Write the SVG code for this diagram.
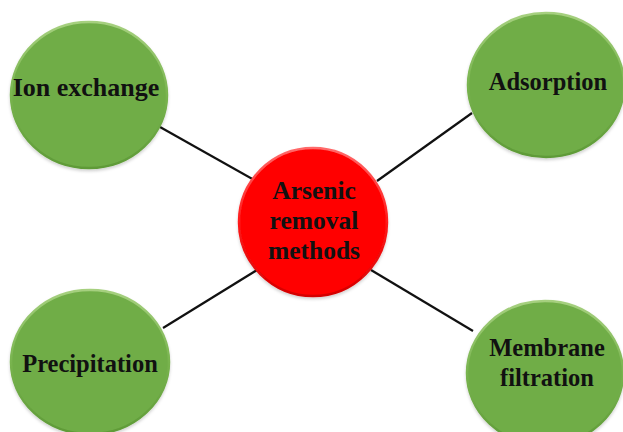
<svg xmlns="http://www.w3.org/2000/svg" width="623" height="432" viewBox="0 0 623 432">
  <defs>
    <linearGradient id="rimGreen" x1="0" y1="0" x2="0" y2="1">
      <stop offset="0" stop-color="#a6d07f"/>
      <stop offset="0.5" stop-color="#79b44f"/>
      <stop offset="1" stop-color="#5e9a37"/>
    </linearGradient>
    <linearGradient id="rimRed" x1="0" y1="0" x2="0" y2="1">
      <stop offset="0" stop-color="#ff6a6a"/>
      <stop offset="0.5" stop-color="#ff1a1a"/>
      <stop offset="1" stop-color="#d40000"/>
    </linearGradient>
    <filter id="soft" x="-10%" y="-10%" width="120%" height="125%">
      <feDropShadow dx="0" dy="2" stdDeviation="1.5" flood-color="#000" flood-opacity="0.18"/>
    </filter>
  </defs>
  <style>
    .method { fill: #70ad47; stroke: url(#rimGreen); stroke-width: 2.5; filter: url(#soft); }
    .core { fill: #ff0000; stroke: url(#rimRed); stroke-width: 2.5; filter: url(#soft); }
    .label { font-family: "Liberation Serif", "Times New Roman", serif; font-weight: bold; font-size: 24.5px; fill: #111; text-anchor: middle; }
    .link { stroke: #111; stroke-width: 2.2; fill: none; }
  </style>
  <rect width="623" height="432" fill="#ffffff"/>

  <g id="connectors">
    <line class="link" x1="160" y1="127" x2="256" y2="181"/>
    <line class="link" x1="472" y1="113" x2="377" y2="181"/>
    <line class="link" x1="163" y1="328" x2="257" y2="270"/>
    <line class="link" x1="473" y1="331" x2="371" y2="270"/>
  </g>

  <g id="ion-exchange">
    <ellipse class="method" cx="89" cy="95" rx="78" ry="73"/>
    <text class="label" x="86" y="96" style="font-size:26px">Ion exchange</text>
  </g>

  <g id="adsorption">
    <ellipse class="method" cx="546" cy="85" rx="78" ry="72"/>
    <text class="label" x="548" y="90">Adsorption</text>
  </g>

  <g id="precipitation">
    <ellipse class="method" cx="90" cy="362" rx="79" ry="72"/>
    <text class="label" x="90" y="372">Precipitation</text>
  </g>

  <g id="membrane-filtration">
    <ellipse class="method" cx="545" cy="373" rx="78" ry="72"/>
    <text class="label" x="547" y="356">Membrane</text>
    <text class="label" x="547" y="386">filtration</text>
  </g>

  <g id="arsenic-removal-methods">
    <circle class="core" cx="313" cy="222" r="74"/>
    <text class="label" x="314" y="199" style="font-size:25.5px">Arsenic</text>
    <text class="label" x="314" y="229" style="font-size:25.5px">removal</text>
    <text class="label" x="314" y="259" style="font-size:25.5px">methods</text>
  </g>
</svg>
